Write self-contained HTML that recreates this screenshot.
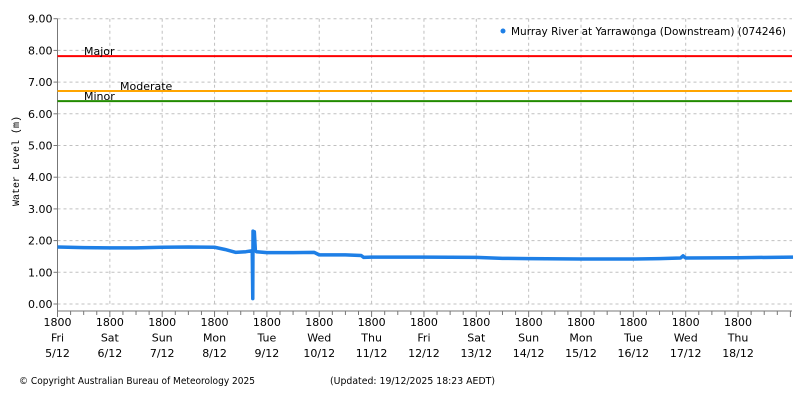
<!DOCTYPE html>
<html><head><meta charset="utf-8"><style>
body{margin:0;background:#fff;width:800px;height:400px;overflow:hidden}
svg{font-family:"DejaVu Sans","Liberation Sans",sans-serif}
</style></head><body>
<svg id="c" width="800" height="400"></svg>
<script>
const yTicks=[0,1,2,3,4,5,6,7,8,9];
const dayNames=["Fri","Sat","Sun","Mon","Tue","Wed","Thu","Fri","Sat","Sun","Mon","Tue","Wed","Thu"];
const dayDates=["5/12","6/12","7/12","8/12","9/12","10/12","11/12","12/12","13/12","14/12","15/12","16/12","17/12","18/12"];
const thresholdNames=["Major","Moderate","Minor"];
const thresholdValues=[7.82,6.72,6.40];
const times=[0,0.5,1,1.5,2,2.5,3,3.2,3.4,3.6,3.72,3.73,3.735,3.74,3.75,3.76,3.78,3.8,4,4.5,4.9,5,5.5,5.8,5.85,6,7,8,8.5,9,10,11,11.5,11.9,11.95,12,13,14.05];
const levels=[1.80,1.78,1.77,1.77,1.79,1.80,1.79,1.72,1.63,1.65,1.68,0.17,2.30,2.28,1.95,2.28,1.68,1.65,1.62,1.62,1.63,1.55,1.55,1.53,1.47,1.48,1.48,1.47,1.44,1.43,1.42,1.42,1.43,1.45,1.52,1.45,1.46,1.48];

const X0=57.5,X1=792,DAY=52.35,Y0=304,UNIT=31.7;
const xs=d=>X0+d*DAY, ys=v=>Y0-v*UNIT;
const svg=document.getElementById('c');const NS="http://www.w3.org/2000/svg";
function mk(t,a,p){const e=document.createElementNS(NS,t);for(const k in a)e.setAttribute(k,a[k]);(p||svg).appendChild(e);return e;}
yTicks.forEach(v=>{
 const g=mk('line',{x1:X0,x2:X1,y1:ys(v),y2:ys(v),stroke:'#c0c0c0','stroke-dasharray':'3,3'});
 
 
 const t=mk('text',{x:X0-5,y:ys(v)+4,'text-anchor':'end','font-size':'11',fill:'#000'});t.textContent=v.toFixed(2);
 
 
 mk('line',{x1:X0-4,x2:X0,y1:ys(v),y2:ys(v),stroke:'#777'});
});
dayNames.forEach((n,i)=>{
 const x=xs(i);
 if(i>0){const g=mk('line',{x1:x,x2:x,y1:ys(9),y2:Y0,stroke:'#c0c0c0','stroke-dasharray':'3,3'});
 
 }
 const t=mk('text',{x:x,y:326,'text-anchor':'middle','font-size':'11',fill:'#000'});
 
 
 [["1800",0],[n,16],[dayDates[i],31]].forEach(([s,dy])=>{const ts=mk('tspan',{x:x,dy:dy?15.5:0},t);ts.textContent=s;});
});
for(let k=0;k<=14.05*4;k++){const x=xs(k/4);if(x>X1)break;mk('line',{x1:x,x2:x,y1:311,y2:k%4?315:317,stroke:'#777'});}
mk('line',{x1:X0,x2:X0,y1:ys(9),y2:311,stroke:'#777'});
mk('line',{x1:X0,x2:X1,y1:311,y2:311,stroke:'#777'});
const tcol=['#ff0000','#ffa500','#228b00'];const tlx=[84,120,84];
thresholdValues.forEach((v,i)=>{
 const l=mk('line',{x1:X0,x2:X1,y1:ys(v),y2:ys(v),stroke:tcol[i],'stroke-width':2});
 
 
 const t=mk('text',{x:tlx[i],y:ys(v)-1,'font-size':'11',fill:'#000'});t.textContent=thresholdNames[i];
 
 
});
const p=mk('polyline',{points:times.map((t,i)=>xs(t)+','+ys(levels[i])).join(' '),fill:'none',stroke:'#1e7fe6','stroke-width':3.5,'stroke-linejoin':'round'});


const yt=mk('text',{x:0,y:0,transform:'translate(19,161) rotate(-90)','text-anchor':'middle','font-size':'10','font-family':'Liberation Mono,monospace',fill:'#000'});yt.textContent='Water Level (m)';


const lg=mk('g',{});
mk('circle',{cx:503,cy:31,r:2.5,fill:'#1e7fe6'},lg);
const lt=mk('text',{x:511,y:35,'font-size':'11',fill:'#000',textLength:275,lengthAdjust:'spacingAndGlyphs'},lg);lt.textContent='Murray River at Yarrawonga (Downstream) (074246)';
const f1=mk('text',{x:19,y:384,'font-size':'9.5',fill:'#000',textLength:236,lengthAdjust:'spacingAndGlyphs'});f1.textContent='© Copyright Australian Bureau of Meteorology 2025';

const f2=mk('text',{x:330,y:384,'font-size':'9.5',fill:'#000',textLength:165,lengthAdjust:'spacingAndGlyphs'});f2.textContent='(Updated: 19/12/2025 18:23 AEDT)';

</script>
</body></html>
